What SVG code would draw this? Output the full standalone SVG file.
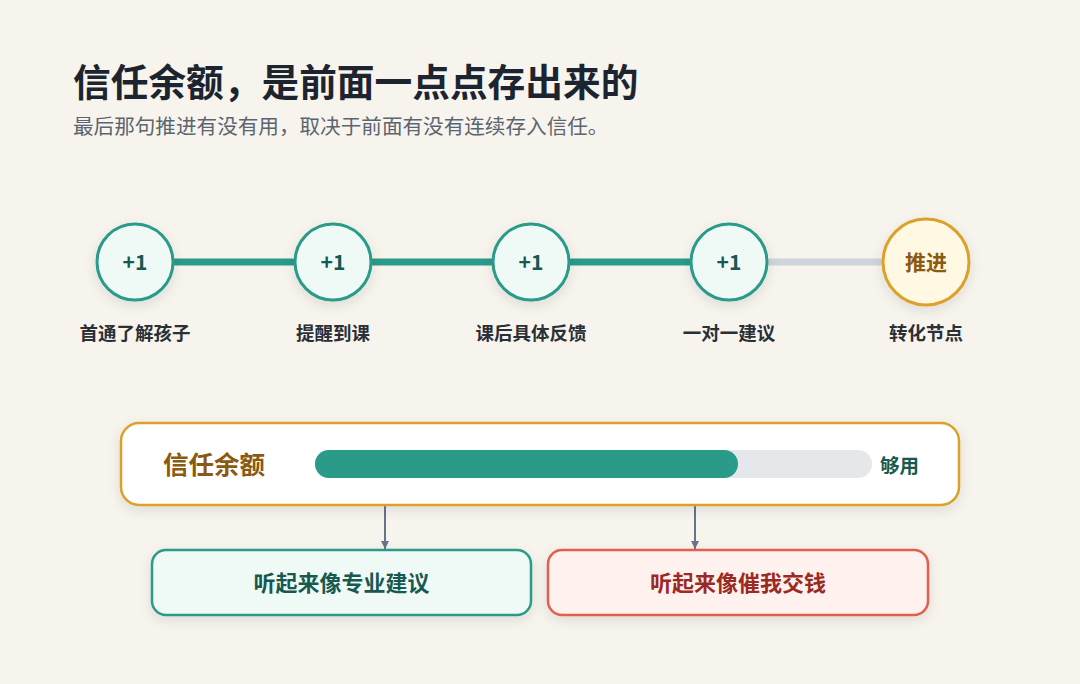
<svg xmlns="http://www.w3.org/2000/svg" width="1080" height="684" viewBox="0 0 1080 684">
<defs>
<filter id="sh" x="-20%" y="-30%" width="140%" height="160%"><feDropShadow dx="0" dy="4" stdDeviation="6" flood-color="#000" flood-opacity="0.10"/></filter>
<marker id="ar" markerWidth="10" markerHeight="10" refX="8" refY="5" orient="auto" markerUnits="userSpaceOnUse"><path d="M0,1 L8,5 L0,9 Z" fill="#64748b"/></marker>
<style>
text{font-family:"Noto Sans CJK SC","Noto Sans",sans-serif}
.c{fill:#effaf7;stroke:#2a9a89;stroke-width:3}
.n{font-size:21px;font-weight:700;fill:#17594f;text-anchor:middle}
.l{font-size:18.5px;font-weight:700;fill:#2b2f36;text-anchor:middle}
</style>
</defs>
<rect width="1080" height="684" fill="#f7f4ee"/>
<text x="73" y="96" font-size="37.7" font-weight="700" fill="#1c2430">信任余额，是前面一点点存出来的</text>
<text x="73" y="134" font-size="20.6" fill="#5c6470">最后那句推进有没有用，取决于前面有没有连续存入信任。</text>
<g id="connectors">
<line x1="173" y1="262" x2="295" y2="262" stroke="#2a9a89" stroke-width="7"/>
<line x1="371" y1="262" x2="493" y2="262" stroke="#2a9a89" stroke-width="7"/>
<line x1="569" y1="262" x2="691" y2="262" stroke="#2a9a89" stroke-width="7"/>
<line x1="767" y1="262" x2="882" y2="262" stroke="#cfd4dc" stroke-width="7"/>
<line x1="385" y1="506" x2="385" y2="549" stroke="#64748b" stroke-width="2" marker-end="url(#ar)"/>
<line x1="695" y1="506" x2="695" y2="549" stroke="#64748b" stroke-width="2" marker-end="url(#ar)"/>
</g>
<g id="n1"><circle class="c" cx="135" cy="262" r="38" filter="url(#sh)"/><text class="n" x="135" y="270">+1</text><text class="l" x="135" y="340">首通了解孩子</text></g>
<g id="n2"><circle class="c" cx="333" cy="262" r="38" filter="url(#sh)"/><text class="n" x="333" y="270">+1</text><text class="l" x="333" y="340">提醒到课</text></g>
<g id="n3"><circle class="c" cx="531" cy="262" r="38" filter="url(#sh)"/><text class="n" x="531" y="270">+1</text><text class="l" x="531" y="340">课后具体反馈</text></g>
<g id="n4"><circle class="c" cx="729" cy="262" r="38" filter="url(#sh)"/><text class="n" x="729" y="270">+1</text><text class="l" x="729" y="340">一对一建议</text></g>
<g id="n5"><circle cx="926" cy="262" r="43" fill="#fff8e3" stroke="#dba12a" stroke-width="3" filter="url(#sh)"/><text class="n" x="926" y="270" style="fill:#8a5a10">推进</text><text class="l" x="926" y="340">转化节点</text></g>
<g id="balance">
<rect x="121" y="423" width="838" height="82" rx="18" fill="#fff" stroke="#dba12a" stroke-width="2.5" filter="url(#sh)"/>
<text x="163" y="474" font-size="25.5" font-weight="700" fill="#8a5a10">信任余额</text>
<rect x="315" y="450" width="557" height="28" rx="14" fill="#e5e7eb"/>
<rect x="315" y="450" width="423" height="28" rx="14" fill="#2a9a89"/>
<text x="880" y="473" font-size="19.5" font-weight="700" fill="#17594f">够用</text>
</g>
<g id="good"><rect x="152" y="550" width="379" height="65" rx="14" fill="#effaf7" stroke="#2a9a89" stroke-width="2.5" filter="url(#sh)"/><text x="341.5" y="591" font-size="22" font-weight="700" fill="#17594f" text-anchor="middle">听起来像专业建议</text></g>
<g id="bad"><rect x="548" y="550" width="380" height="65" rx="14" fill="#fff2ee" stroke="#e0604e" stroke-width="2.5" filter="url(#sh)"/><text x="738" y="591" font-size="22" font-weight="700" fill="#9a2a22" text-anchor="middle">听起来像催我交钱</text></g>
</svg>
